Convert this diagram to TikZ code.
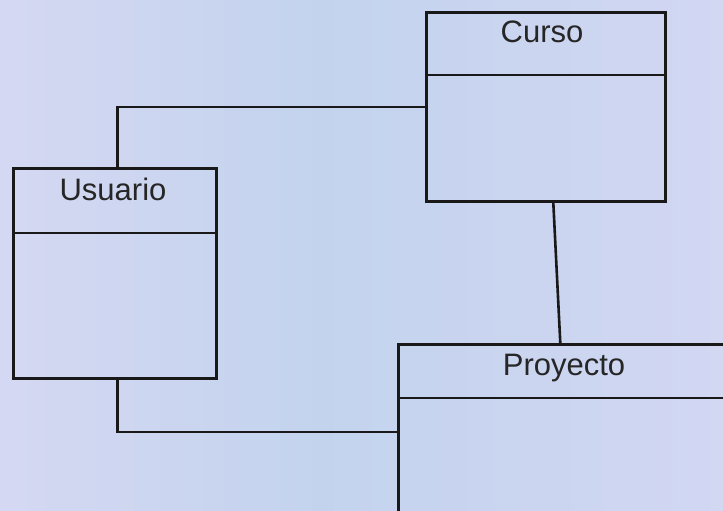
\documentclass[tikz,border=0pt]{standalone}
\usepackage{fontspec}
\setmainfont{Liberation Sans}
\definecolor{lavL}{HTML}{D5D8F2}
\definecolor{bluM}{HTML}{C3D3EE}
\definecolor{lavR}{HTML}{D2D7F2}
\begin{document}
\begin{tikzpicture}[x=1pt,y=-1pt,
  cls/.style={draw=black!90, line width=2.6pt, anchor=north west, inner sep=0pt},
  title/.style={anchor=base, font=\fontsize{31}{33}\selectfont, text=black!85},
  conn/.style={line width=2.6pt, draw=black!90}]
\useasboundingbox (0,0) rectangle (723,511);
\clip (0,0) rectangle (723,511);
\shade[left color=lavL, right color=bluM] (0,0) rectangle (320,511);
\shade[left color=bluM, right color=lavR] (320,0) rectangle (723,511);
% classes
\node[cls, minimum width=239pt, minimum height=189pt] (curso) at (425,11) {};
\node[title] (cursoT) at (542,43) {Curso};
\draw[conn] ([yshift=-64pt]curso.north west) -- ([yshift=-64pt]curso.north east);

\node[cls, minimum width=203pt, minimum height=210pt] (usuario) at (12,167) {};
\node[title] (usuarioT) at (113,200) {Usuario};
\draw[conn] ([yshift=-66pt]usuario.north west) -- ([yshift=-66pt]usuario.north east);

\node[cls, minimum width=340pt, minimum height=175pt] (proyecto) at (397,343) {};
\node[title] (proyectoT) at (564,375) {Proyecto};
\draw[conn] ([yshift=-55pt]proyecto.north west) -- ([yshift=-55pt]proyecto.north east);
% connectors
\draw[conn] ([xshift=2.5pt]usuario.north) |- (curso.west);
\draw[conn] ([xshift=2.5pt]usuario.south) |- (proyecto.west);
\draw[conn] ([xshift=7.5pt]curso.south) -- ([xshift=-8pt]proyecto.north);
\end{tikzpicture}
\end{document}
